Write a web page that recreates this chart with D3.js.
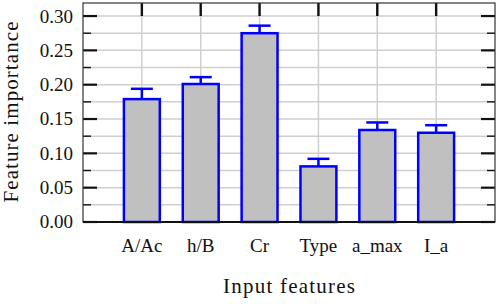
<!DOCTYPE html>
<html>
<head>
<meta charset="utf-8">
<script src="https://cdn.jsdelivr.net/npm/d3@7"></script>
<style>
  body { margin: 0; background: #fff; }
</style>
</head>
<body>
<div id="chart"></div>
<script>
// data
const features = ["A/Ac", "h/B", "Cr", "Type", "a_max", "I_a"];
const importance = [0.179, 0.201, 0.275, 0.081, 0.134, 0.130];
const errUpper = [0.194, 0.211, 0.286, 0.092, 0.145, 0.141];
const yTicks = [0, 0.05, 0.10, 0.15, 0.20, 0.25, 0.30];
const yMinor = [0.025, 0.075, 0.125, 0.175, 0.225, 0.275];

const FONT = "'Liberation Serif', 'DejaVu Serif', serif";
const W = 498, H = 304;
const margin = {top: 3, right: 3, bottom: 82, left: 83};
const width = W - margin.left - margin.right;
const height = H - margin.top - margin.bottom;

const svg = d3.select("#chart").append("svg")
  .attr("width", W).attr("height", H)
  .attr("font-family", FONT);
const g = svg.append("g")
  .attr("transform", "translate(" + margin.left + "," + margin.top + ")");

// categories sit at 1..6 on a 0..7 axis
const x = d3.scaleLinear().domain([0, features.length + 1]).range([0, width]);
const y = d3.scaleLinear().domain([0, 0.319]).range([height, 0]);
const bw = 0.61 * (x(1) - x(0));
const capW = 22;

// grid
g.selectAll(".hgrid").data(yTicks.concat(yMinor)).enter().append("line")
  .attr("x1", 0).attr("x2", width)
  .attr("y1", d => y(d)).attr("y2", d => y(d))
  .attr("stroke", "#cfcfcf").attr("stroke-width", 1.5);
g.selectAll(".vgrid").data(features).enter().append("line")
  .attr("x1", (d, i) => x(i + 1)).attr("x2", (d, i) => x(i + 1))
  .attr("y1", 0).attr("y2", height)
  .attr("stroke", "#cfcfcf").attr("stroke-width", 1.5);

// inward ticks on left / right / top
const tickG = g.append("g").attr("stroke", "#111");
yTicks.forEach(v => {
  tickG.append("line").attr("x1", 0).attr("x2", 14).attr("y1", y(v)).attr("y2", y(v)).attr("stroke-width", 2.2);
  tickG.append("line").attr("x1", width).attr("x2", width - 14).attr("y1", y(v)).attr("y2", y(v)).attr("stroke-width", 2.2);
});
yMinor.forEach(v => {
  tickG.append("line").attr("x1", 0).attr("x2", 8).attr("y1", y(v)).attr("y2", y(v)).attr("stroke-width", 1.4);
  tickG.append("line").attr("x1", width).attr("x2", width - 8).attr("y1", y(v)).attr("y2", y(v)).attr("stroke-width", 1.4);
});
features.forEach((f, i) => {
  tickG.append("line").attr("x1", x(i + 1)).attr("x2", x(i + 1)).attr("y1", 0).attr("y2", 13).attr("stroke-width", 2.4);
});

// error bars
const err = g.append("g").attr("stroke", "#0000ff").attr("stroke-width", 2.5);
features.forEach((f, i) => {
  err.append("line").attr("x1", x(i + 1)).attr("x2", x(i + 1))
    .attr("y1", y(importance[i])).attr("y2", y(errUpper[i]));
  err.append("line").attr("x1", x(i + 1) - capW / 2).attr("x2", x(i + 1) + capW / 2)
    .attr("y1", y(errUpper[i])).attr("y2", y(errUpper[i]));
});

// bars
g.selectAll(".bar").data(importance).enter().append("rect")
  .attr("class", "bar")
  .attr("x", (d, i) => x(i + 1) - bw / 2)
  .attr("width", bw)
  .attr("y", d => y(d))
  .attr("height", d => height - y(d))
  .attr("fill", "#c0c0c0")
  .attr("stroke", "#0000ff")
  .attr("stroke-width", 2.5);

// frame
g.append("rect").attr("width", width).attr("height", height)
  .attr("fill", "none").attr("stroke", "#333").attr("stroke-width", 1.2);
g.append("line").attr("x1", 0).attr("x2", width).attr("y1", height).attr("y2", height)
  .attr("stroke", "#111").attr("stroke-width", 1.8);

// tick labels
g.selectAll(".ylab").data(yTicks).enter().append("text")
  .attr("x", -10).attr("y", d => y(d)).attr("dy", "0.34em")
  .attr("text-anchor", "end").attr("font-size", 19).attr("fill", "#111")
  .text(d => d3.format(".2f")(d));
g.selectAll(".xlab").data(features).enter().append("text")
  .attr("x", (d, i) => x(i + 1)).attr("y", height + 30)
  .attr("text-anchor", "middle").attr("font-size", 19).attr("fill", "#111")
  .text(d => d);

// axis titles
svg.append("text")
  .attr("x", margin.left + width / 2).attr("y", 293)
  .attr("text-anchor", "middle").attr("font-size", 21).attr("fill", "#111")
  .attr("textLength", 132).attr("lengthAdjust", "spacing")
  .text("Input features");
svg.append("text")
  .attr("transform", "translate(18," + (margin.top + 109) + ") rotate(-90)")
  .attr("text-anchor", "middle").attr("font-size", 21).attr("fill", "#111")
  .attr("textLength", 181).attr("lengthAdjust", "spacing")
  .text("Feature importance");
</script>
</body>
</html>
